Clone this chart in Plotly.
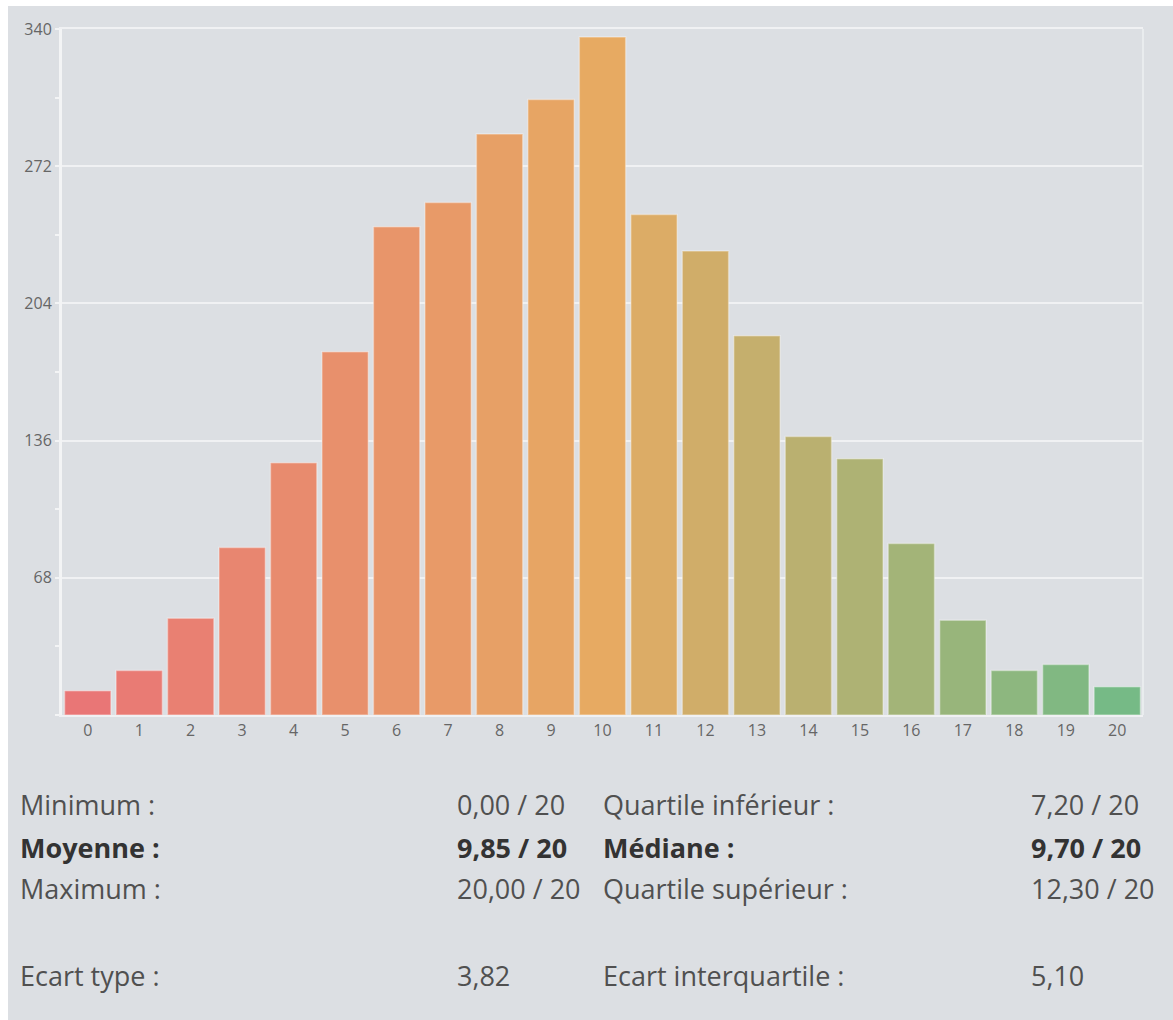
import plotly.graph_objects as go

# ---- data ----
grades = [str(i) for i in range(21)]
counts = [12, 22, 48, 83, 125, 180, 242, 254, 288, 305, 336, 248, 230, 188, 138, 127, 85, 47, 22, 25, 14]
y_ticks = [0, 68, 136, 204, 272, 340]

stat_labels_left = ["Minimum :", "Moyenne :", "Maximum :", "Ecart type :"]
stat_values_left = ["0,00 / 20", "9,85 / 20", "20,00 / 20", "3,82"]
stat_labels_right = ["Quartile inférieur :", "Médiane :", "Quartile supérieur :", "Ecart interquartile :"]
stat_values_right = ["7,20 / 20", "9,70 / 20", "12,30 / 20", "5,10"]
stat_bold = [False, True, False, False]

# ---- style ----
W, H = 1165, 1014
ML, MR, MT, MB = 54, 30, 19, 305
PW, PH = W - ML - MR, H - MT - MB
BG = "#dcdfe3"
FONT = "Open Sans"

stops = [(0, (233, 118, 118)), (10, (231, 170, 98)), (20, (118, 186, 134))]


def color_at(i):
    for (a, ca), (b, cb) in zip(stops[:-1], stops[1:]):
        if a <= i <= b:
            t = (i - a) / (b - a)
            c = [round(ca[k] + (cb[k] - ca[k]) * t) for k in range(3)]
            return f"rgb({c[0]},{c[1]},{c[2]})"
    return "rgb(0,0,0)"


colors = [color_at(i) for i in range(len(grades))]


def px(x):
    return (x - ML) / PW


def py(y):
    return (MT + PH - y) / PH


fig = go.Figure()
fig.add_trace(go.Bar(
    x=grades, y=counts,
    marker=dict(color=colors, line=dict(color="rgba(255,255,255,0.35)", width=1.5)),
    hoverinfo="x+y",
))

annotations = []
rows_y = [799, 842, 884, 971]
for i, yy in enumerate(rows_y):
    bold = stat_bold[i]
    col = "#333333" if bold else "#505050"
    for xx, txt in [(10, stat_labels_left[i]), (447, stat_values_left[i]),
                    (593, stat_labels_right[i]), (1021, stat_values_right[i])]:
        t = f"<b>{txt}</b>" if bold else txt
        annotations.append(dict(
            x=px(xx), y=py(yy), xref="paper", yref="paper", text=t, showarrow=False,
            xanchor="left", yanchor="middle", font=dict(family=FONT, size=27, color=col),
        ))

fig.update_layout(
    width=W, height=H,
    margin=dict(l=ML, r=MR, t=MT, b=MB, pad=0),
    paper_bgcolor=BG, plot_bgcolor=BG,
    bargap=0.1, showlegend=False,
    font=dict(family=FONT, color="#666666"),
    annotations=annotations,
    shapes=[dict(type="line", xref="paper", yref="paper", x0=1, x1=1, y0=0, y1=1,
                 line=dict(color="#eef0f2", width=1.5))],
    xaxis=dict(
        type="category", range=[-0.5, 20.5], showgrid=False, zeroline=False,
        showline=True, mirror=True, linecolor="#f0f1f3", linewidth=2,
        ticks="", tickfont=dict(family=FONT, size=16, color="#666666"),
        fixedrange=True,
    ),
    yaxis=dict(
        range=[0, 340], tickvals=y_ticks, ticktext=[str(v) if v else "" for v in y_ticks],
        showgrid=True, gridcolor="#f0f1f3", gridwidth=1.5, zeroline=False,
        showline=True, linecolor="#f3f4f5", linewidth=3,
        ticks="outside", ticklen=4, tickcolor="#f3f4f5", tickwidth=2,
        minor=dict(dtick=34, tick0=0, ticks="outside", ticklen=4, tickcolor="#f3f4f5",
                   tickwidth=2, showgrid=False),
        tickfont=dict(family=FONT, size=16, color="#666666"),
        fixedrange=True,
    ),
)

fig.write_html("out.html", post_script="document.body.style.margin='6px 0 0 8px';")
